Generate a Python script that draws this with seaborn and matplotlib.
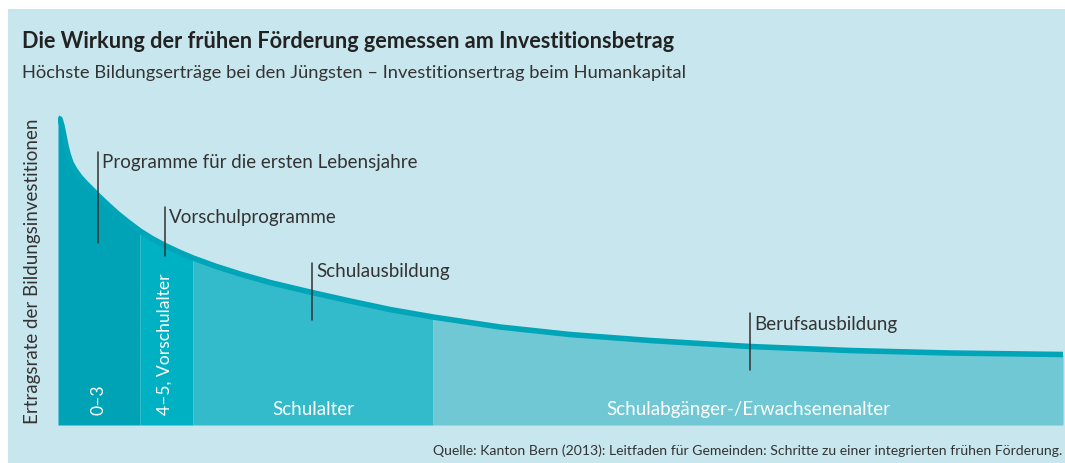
import numpy as np
import pandas as pd
import matplotlib
matplotlib.use("Agg")
import matplotlib.pyplot as plt
from matplotlib.patches import Rectangle
import seaborn as sns

# curve (x: position along the life course, y: return rate), arbitrary units
curve_x = [0, 2, 4, 6, 8, 10, 13, 17, 22, 28, 34, 40, 50, 60, 70, 82, 94, 107, 122, 135,
           157, 182, 212, 254, 292, 332, 375, 442, 512, 592, 692, 792, 892, 1005]
curve_y = [307, 306, 299, 289, 279, 271, 262, 255, 248, 241.5, 235.5, 229.5, 220, 211, 203,
           194, 186.5, 179.5, 172.5, 167, 159, 151, 142.5, 132.5, 124, 115.5, 108, 98, 90.5,
           84.5, 78.5, 74.5, 72, 70.5]

segment_names = ["0–3", "4–5, Vorschulalter", "Schulalter", "Schulabgänger-/Erwachsenenalter"]
segment_edges = [0, 82, 135, 375, 1005]
segment_colors = ["#00a3b6", "#00b1c4", "#33bbcb", "#6fc8d4"]

programme_names = ["Programme für die ersten Lebensjahre", "Vorschulprogramme",
                   "Schulausbildung", "Berufsausbildung"]
programme_x = [40, 107, 254, 692]
programme_line = [(182, 273), (169, 218), (105, 162), (55, 112)]
programme_text_y = [257, 202, 148, 95]

W, H = 1065, 463
BG = "#c8e6ee"
LINE = "#00a5b8"
TXT = "#333333"

sns.set_theme(style="white")
plt.rcParams["font.family"] = ["Lato", "DejaVu Sans"]

fig = plt.figure(figsize=(W / 100, H / 100), dpi=100)
fig.patch.set_facecolor(BG)
# white margin at the left and top
fig.patches.append(Rectangle((0, 0), 8 / W, 1, transform=fig.transFigure,
                             facecolor="white", edgecolor="none", zorder=-10))
fig.patches.append(Rectangle((0, 1 - 9 / H), 1, 9 / H, transform=fig.transFigure,
                             facecolor="white", edgecolor="none", zorder=-10))

ax = fig.add_axes([58 / W, 38 / H, 1005 / W, 325 / H])
ax.set_facecolor("none")

df = pd.DataFrame({"x": curve_x, "y": curve_y})
xs = np.array(curve_x, dtype=float)
ys = np.array(curve_y, dtype=float)

for i, name in enumerate(segment_names):
    a, b = segment_edges[i], segment_edges[i + 1]
    mask = (xs >= a) & (xs <= b)
    ax.fill_between(xs[mask], 0, ys[mask], color=segment_colors[i], lw=0, zorder=1)

sns.lineplot(data=df, x="x", y="y", color=LINE, lw=4.0, ax=ax, zorder=3,
             solid_capstyle="butt", solid_joinstyle="round", sort=False)

# segment labels (white)
ax.text(40, 10, segment_names[0], rotation=90, ha="center", va="bottom",
        color="white", fontsize=12.6, zorder=4)
ax.text(107, 10, segment_names[1], rotation=90, ha="center", va="bottom",
        color="white", fontsize=12.6, zorder=4)
ax.text(255, 10, segment_names[2], ha="center", va="baseline",
        color="white", fontsize=13.5, zorder=4)
ax.text(690, 10, segment_names[3], ha="center", va="baseline",
        color="white", fontsize=13.5, zorder=4)

# programme annotations with leader lines
for name, x, (y0, y1), ty in zip(programme_names, programme_x, programme_line, programme_text_y):
    ax.plot([x, x], [y0, y1], color=TXT, lw=1.1, zorder=5)
    ax.text(x + 4, ty, name, ha="left", va="baseline", color=TXT, fontsize=13.5, zorder=5)

ax.set_xlim(0, 1005)
ax.set_ylim(0, 325)
ax.set_xlabel("")
ax.set_ylabel("")
ax.set_xticks([])
ax.set_yticks([])
sns.despine(ax=ax, left=True, bottom=True)

fig.text(33 / W, 1 - 271 / H, "Ertragsrate der Bildungsinvestitionen", rotation=90,
         ha="center", va="center", color=TXT, fontsize=13.5)

fig.text(22 / W, 1 - 48 / H, "Die Wirkung der frühen Förderung gemessen am Investitionsbetrag",
         ha="left", va="baseline", color="#222222", fontsize=15.6, fontweight="bold")
fig.text(22 / W, 1 - 78 / H, "Höchste Bildungserträge bei den Jüngsten – Investitionsertrag beim Humankapital",
         ha="left", va="baseline", color=TXT, fontsize=13.2)
fig.text(1062 / W, 1 - 455 / H,
         "Quelle: Kanton Bern (2013): Leitfaden für Gemeinden: Schritte zu einer integrierten frühen Förderung.",
         ha="right", va="baseline", color=TXT, fontsize=10.1)

fig.savefig("out.png", dpi=100, facecolor=fig.get_facecolor())
